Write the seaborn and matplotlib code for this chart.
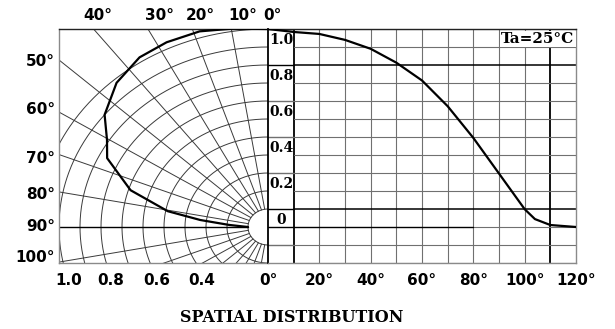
import numpy as np
import pandas as pd
import matplotlib
matplotlib.use("Agg")
import matplotlib.pyplot as plt
import seaborn as sns

# ----------------------------------------------------------
# DATA
# ----------------------------------------------------------
# rectangular plot: relative intensity vs angle
cart_angle = [0, 10, 20, 30, 40, 50, 60, 70, 80, 90, 100, 104, 110, 120]
cart_value = [1.0, 0.985, 0.975, 0.945, 0.90, 0.83, 0.74, 0.61, 0.45, 0.27, 0.09, 0.04, 0.01, 0.0]

# polar plot: relative intensity vs angle
polar_angle = [0, 9.6, 18.4, 27.6, 35.8, 45, 54.2, 60.4, 65.8, 74.3, 80.6, 83.8, 86.8, 90]
polar_value = [1.0, 1.015, 1.035, 1.035, 1.025, 0.98, 0.90, 0.81, 0.76, 0.59, 0.39, 0.23, 0.09, 0.0]

top_labels = ["40°", "30°", "20°", "10°", "0°"]
left_labels = ["50°", "60°", "70°", "80°", "90°", "100°"]
radius_labels = ["1.0", "0.8", "0.6", "0.4"]
cart_xticks = [0, 20, 40, 60, 80, 100, 120]
cart_xlabels = ["0°", "20°", "40°", "60°", "80°", "100°", "120°"]
cart_ylabels = ["1.0", "0.8", "0.6", "0.4", "0.2", "0"]

# ----------------------------------------------------------
# STYLE
# ----------------------------------------------------------
sns.set_style("white")
plt.rcParams["font.family"] = ["DejaVu Sans"]
plt.rcParams["text.color"] = "black"
plt.rcParams["xtick.color"] = "black"
plt.rcParams["ytick.color"] = "black"

GRID_P = "#3a3a3a"
GRID_C = "#707070"
LAB = dict(fontsize=11, fontweight="bold", family="DejaVu Sans", color="black")
SERIF = dict(fontsize=10, fontweight="bold", family="DejaVu Serif", color="black")

# polar grid is a bit stretched sideways in the original drawing
RX0, RX1 = 20, 21
RY0, RY1 = 18, 18
STRETCH = 1.05


def to_xy(theta_deg, v):
    th = np.radians(theta_deg)
    s = np.asarray(v, dtype=float) * 10
    a = RX0 + RX1 * s
    b = RY0 + RY1 * s
    dx = STRETCH * np.sin(th)
    dy = np.cos(th)
    t = 1 / np.sqrt((dx / a) ** 2 + (dy / b) ** 2)
    return -t * dx, t * dy


fig = plt.figure(figsize=(6.15, 3.29), dpi=100)
ax_p = fig.add_axes([59 / 615, 66 / 329, 209 / 615, 234 / 329])
ax_c = fig.add_axes([268 / 615, 66 / 329, 308 / 615, 234 / 329])

# ----------------------------------------------------------
# POLAR PART
# ----------------------------------------------------------
theta_fine = np.linspace(0, 180, 361)
for s in range(0, 11):
    x, y = to_xy(theta_fine, s / 10)
    ax_p.plot(x, y, color=GRID_P, lw=0.7, zorder=1)

for th in range(0, 181, 10):
    x, y = to_xy(th, np.array([0, 1.5]))
    if th == 90:
        ax_p.plot(x, y, color="black", lw=1.0, zorder=2)
    else:
        ax_p.plot(x, y, color=GRID_P, lw=0.7, zorder=1)

px, py = to_xy(np.array(polar_angle), np.array(polar_value))
polar_df = pd.DataFrame({"x": px, "y": py})
sns.lineplot(data=polar_df, x="x", y="y", sort=False, estimator=None,
             color="black", lw=1.6, ax=ax_p, zorder=5)

ax_p.set_xlim(-209, 0)
ax_p.set_ylim(-36, 198)
ax_p.set_xlabel("")
ax_p.set_ylabel("")
ax_p.set_xticks([-199, -157, -111, -66], radius_labels, **LAB)
ax_p.set_yticks([167, 119, 70, 34, 2, -29], left_labels, **LAB)
ax_p.tick_params(length=0, pad=7, axis="x")
ax_p.tick_params(length=0, pad=3, axis="y")
for xpos, lab in zip([-170, -108, -68, -25, 4], top_labels):
    ax_p.text(xpos, 212, lab, ha="center", va="center", clip_on=False, **LAB)

for side in ["left", "bottom"]:
    ax_p.spines[side].set_color("#8a8a8a")
    ax_p.spines[side].set_linewidth(1.0)
ax_p.spines["top"].set_color("#222222")
ax_p.spines["top"].set_linewidth(1.0)
ax_p.spines["right"].set_visible(False)

# ----------------------------------------------------------
# RECTANGULAR PART
# ----------------------------------------------------------
ymin = -2 / 11
for k in range(1, 12):
    xv = k * 10
    col, lw = (("black", 1.3) if xv in (10, 110) else (GRID_C, 0.8))
    ax_c.plot([xv, xv], [ymin, 1], color=col, lw=lw, zorder=1)

for k in range(-2, 12):
    yv = k / 11
    if k in (9, 1):
        ax_c.plot([10, 120], [yv, yv], color="black", lw=1.1, zorder=2)
    elif k == 0:
        ax_c.plot([10, 80], [yv, yv], color="black", lw=1.0, zorder=2)
        ax_c.plot([80, 120], [yv, yv], color=GRID_C, lw=0.8, zorder=1)
    else:
        ax_c.plot([10, 120], [yv, yv], color=GRID_C, lw=0.8, zorder=1)
    if k in (11, 9, 7, 5, 3, 1, 0, -1):
        col = "black" if k in (9, 1, 0) else GRID_C
        ax_c.plot([0, 10], [yv, yv], color=col, lw=1.0, zorder=2)

for k, lab in zip([11, 9, 7, 5, 3, 1], cart_ylabels):
    ax_c.text(5.2, k / 11 - 0.058, lab, ha="center", va="center", zorder=4, **SERIF)

ax_c.text(105, 10.45 / 11, "Ta=25°C", ha="center", va="center", fontsize=11,
          fontweight="bold", family="DejaVu Serif", color="black", zorder=6,
          bbox=dict(facecolor="white", edgecolor="none", pad=1.0))

cart_df = pd.DataFrame({"angle": cart_angle, "value": cart_value})
sns.lineplot(data=cart_df, x="angle", y="value", color="black", lw=1.6,
             ax=ax_c, zorder=5)

ax_c.set_xlim(0, 120)
ax_c.set_ylim(ymin, 1)
ax_c.set_xlabel("")
ax_c.set_ylabel("")
ax_c.set_xticks(cart_xticks, cart_xlabels, **LAB)
ax_c.set_yticks([])
ax_c.tick_params(length=0, pad=7)

ax_c.spines["left"].set_color("black")
ax_c.spines["left"].set_linewidth(1.3)
ax_c.spines["top"].set_color("#222222")
ax_c.spines["top"].set_linewidth(1.0)
for side in ["right", "bottom"]:
    ax_c.spines[side].set_color("#8a8a8a")
    ax_c.spines[side].set_linewidth(1.0)

fig.text(292 / 615, 1 - 317 / 329, "SPATIAL DISTRIBUTION", ha="center", va="center",
         fontsize=11.5, fontweight="bold", family="DejaVu Serif", color="black")

fig.savefig("out.png", dpi=100, facecolor="white")
